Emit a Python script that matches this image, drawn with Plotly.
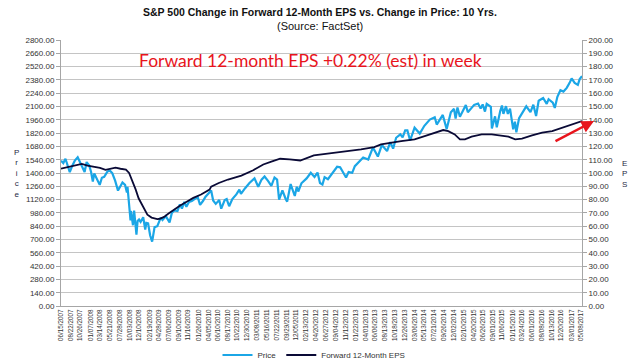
import plotly.graph_objects as go

# ---------------- data ----------------
price_dates = [
"2007-06-15","2007-07-01","2007-07-16","2007-08-01","2007-08-15","2007-09-01","2007-09-19","2007-10-09",
"2007-10-24","2007-11-09","2007-11-26","2007-12-10","2007-12-28","2008-01-10","2008-01-22","2008-02-01",
"2008-02-15","2008-03-10","2008-03-25","2008-04-10","2008-05-02","2008-05-19","2008-06-05","2008-06-25",
"2008-07-15","2008-08-01","2008-08-15","2008-09-02","2008-09-15","2008-09-19","2008-09-29","2008-10-10",
"2008-10-13","2008-10-27","2008-11-04","2008-11-20","2008-11-28","2008-12-08","2008-12-19","2009-01-06",
"2009-01-20","2009-01-28","2009-02-09","2009-02-23","2009-03-09","2009-03-26","2009-04-14","2009-05-08",
"2009-05-20","2009-06-12","2009-07-08","2009-07-24","2009-08-10","2009-09-01","2009-09-18","2009-10-02",
"2009-10-19","2009-11-02","2009-11-20","2009-12-10","2010-01-19","2010-02-05","2010-02-25","2010-03-15",
"2010-04-23","2010-05-07","2010-05-25","2010-06-18","2010-07-02","2010-07-26","2010-08-09","2010-08-26",
"2010-09-17","2010-10-15","2010-11-05","2010-11-16","2010-12-15","2011-01-14","2011-02-18","2011-03-16",
"2011-04-08","2011-04-29","2011-05-23","2011-06-15","2011-07-07","2011-07-25","2011-08-08","2011-08-31",
"2011-09-22","2011-10-03","2011-10-27","2011-11-25","2011-12-09","2011-12-19","2012-01-10","2012-02-15",
"2012-03-15","2012-04-10","2012-05-01","2012-05-18","2012-06-04","2012-06-19","2012-07-12","2012-08-16",
"2012-09-14","2012-10-05","2012-10-25","2012-11-15","2012-12-03","2012-12-28","2013-01-15","2013-02-19",
"2013-03-14","2013-04-18","2013-05-21","2013-06-24","2013-07-22","2013-08-27","2013-09-18","2013-10-08",
"2013-10-29","2013-11-27","2013-12-13","2013-12-31","2014-01-15","2014-02-03","2014-03-06","2014-04-11",
"2014-05-13","2014-06-20","2014-07-24","2014-08-07","2014-09-18","2014-10-15","2014-11-13","2014-12-05",
"2014-12-16","2014-12-29","2015-01-15","2015-02-25","2015-03-11","2015-04-24","2015-05-21","2015-06-08",
"2015-06-22","2015-07-08","2015-07-20","2015-08-18","2015-08-25","2015-09-16","2015-09-28","2015-10-22",
"2015-11-03","2015-11-13","2015-12-01","2015-12-14","2015-12-29","2016-01-20","2016-02-01","2016-02-11",
"2016-03-01","2016-04-20","2016-05-19","2016-06-08","2016-06-27","2016-07-15","2016-08-15","2016-09-09",
"2016-09-22","2016-10-21","2016-11-04","2016-11-22","2016-12-13","2017-01-03","2017-01-26","2017-02-15",
"2017-03-01","2017-03-22","2017-04-13","2017-04-26","2017-05-12"]
price_values = [
1530,1505,1550,1465,1410,1475,1530,1565,
1515,1455,1410,1515,1480,1410,1310,1395,
1350,1275,1350,1360,1415,1425,1400,1320,
1215,1265,1300,1275,1195,1255,1110,900,
1000,850,1005,750,895,910,885,935,
805,875,870,745,677,830,840,930,
905,945,880,980,1005,1000,1070,1025,
1095,1045,1095,1105,1150,1065,1105,1150,
1215,1110,1075,1115,1025,1115,1125,1050,
1125,1175,1225,1180,1240,1295,1343,1256,
1330,1363,1317,1265,1353,1330,1119,1218,
1129,1099,1284,1158,1255,1205,1292,1343,
1402,1358,1405,1295,1278,1357,1335,1405,
1466,1460,1412,1353,1410,1402,1472,1530,
1563,1542,1669,1573,1695,1630,1725,1656,
1771,1807,1775,1848,1848,1742,1877,1815,
1897,1962,1987,1910,2011,1862,2040,2075,
1972,2090,1992,2115,2040,2117,2131,2079,
2122,2047,2128,2096,1868,1996,1882,2052,
2110,2023,2103,2022,2078,1860,1940,1829,
1978,2102,2040,2119,2000,2161,2190,2127,
2177,2141,2085,2202,2271,2257,2296,2349,
2395,2348,2328,2388,2420]

eps_dates = [
"2007-06-15","2007-08-15","2007-10-01","2007-11-07","2007-12-16","2008-02-01","2008-03-12","2008-04-19",
"2008-05-25","2008-06-28","2008-08-01","2008-09-08","2008-09-30","2008-10-20","2008-11-15","2008-12-05",
"2008-12-31","2009-01-18","2009-02-04","2009-03-05","2009-04-14","2009-05-01","2009-05-31","2009-07-01",
"2009-08-09","2009-09-20","2009-11-10","2009-12-20","2010-02-12","2010-04-12","2010-04-23","2010-06-15",
"2010-08-18","2010-11-19","2011-02-09","2011-04-20","2011-06-15","2011-08-15","2011-10-20","2012-01-02",
"2012-04-05","2012-08-23","2012-11-15","2013-02-27","2013-05-30","2013-07-16","2013-12-03","2014-03-06",
"2014-05-15","2014-07-24","2014-09-21","2014-10-26","2014-12-10","2015-01-15","2015-02-19","2015-04-06",
"2015-06-15","2015-08-24","2015-11-02","2015-12-18","2016-02-03","2016-03-21","2016-05-30","2016-08-08",
"2016-10-17","2016-12-26","2017-03-06","2017-05-12"]
eps_values = [
103.2,105.0,106.3,106.9,105.6,104.5,103.9,102.4,
103.5,104.0,103.2,102.6,100.1,95.0,87.5,81.0,
76.2,72.0,68.7,66.5,65.4,65.6,67.0,69.5,
72.5,75.5,78.7,81.3,83.8,87.5,89.8,92.5,
95.1,98.1,102.1,106.4,108.5,110.7,110.2,109.4,
113.2,115.2,116.0,117.7,119.5,121.5,124.0,125.3,
127.8,130.3,132.3,131.5,129.0,125.3,125.3,127.3,
129.0,129.0,128.3,127.3,125.3,125.8,128.3,130.3,
131.5,134.1,136.1,139.1]

tick_labels = [
"06/15/2007","08/22/2007","10/26/2007","01/07/2008","03/14/2008","05/21/2008","07/28/2008","10/03/2008",
"12/10/2008","02/19/2009","04/28/2009","07/06/2009","09/10/2009","11/16/2009","01/26/2010","04/05/2010",
"06/10/2010","08/17/2010","10/22/2010","12/30/2010","03/08/2011","05/16/2011","07/22/2011","09/29/2011",
"12/05/2011","02/13/2012","04/20/2012","06/27/2012","09/04/2012","11/12/2012","01/22/2013","04/01/2013",
"06/06/2013","08/13/2013","10/18/2013","12/26/2013","03/06/2014","05/13/2014","07/21/2014","09/26/2014",
"12/02/2014","02/10/2015","04/20/2015","06/26/2015","09/01/2015","11/06/2015","01/15/2016","03/24/2016",
"06/01/2016","08/08/2016","10/13/2016","12/20/2016","03/01/2017","05/08/2017"]

def to_iso(s):
    m, d, y = s.split("/")
    return f"{y}-{m}-{d}"

tick_vals = [to_iso(s) for s in tick_labels]

FONT = "Liberation Sans, Arial, sans-serif"
L, R, T, B = 61, 582, 40, 306   # plot area in pixels
def px(x): return (x - L) / (R - L)
def py(y): return (B - y) / (B - T)

fig = go.Figure()
fig.add_trace(go.Scatter(x=price_dates, y=price_values, name="Price", mode="lines",
                         line=dict(color="#1ba6e6", width=2.2), yaxis="y"))
fig.add_trace(go.Scatter(x=eps_dates, y=eps_values, name="Forward 12-Month EPS", mode="lines",
                         line=dict(color="#0a0a36", width=1.8), yaxis="y2"))

axis_font = dict(family=FONT, size=8, color="#333333")
fig.update_layout(
    template="none",
    width=640, height=363, autosize=False,
    margin=dict(l=L, r=640 - R, t=T, b=363 - B, pad=0, autoexpand=False),
    paper_bgcolor="white", plot_bgcolor="white",
    font=dict(family=FONT, color="#222222"),
    showlegend=True,
    legend=dict(orientation="h", xref="container", yref="container", x=314 / 640, xanchor="center",
                y=(363 - 355) / 363, yanchor="middle", font=dict(family=FONT, size=8, color="#333333"),
                bgcolor="rgba(0,0,0,0)", itemwidth=30, tracegroupgap=0, borderwidth=0),
    xaxis=dict(type="date", range=["2007-06-15", "2017-05-12"], tickmode="array",
               tickvals=tick_vals, ticktext=tick_labels, tickangle=-90, automargin=False,
               tickfont=dict(family=FONT, size=6.3, color="#333333"),
               showgrid=False, showline=True, linecolor="#a6a6a6", linewidth=1,
               ticks="", zeroline=False),
    yaxis=dict(range=[0, 2800], dtick=140, tick0=0, tickformat=".2f", automargin=False,
               tickfont=axis_font, showgrid=True, gridcolor="#c4c4c4", gridwidth=1,
               showline=True, linecolor="#a6a6a6", ticks="outside", ticklen=4,
               tickcolor="#a6a6a6", zeroline=False),
    yaxis2=dict(range=[0, 200], dtick=10, tick0=0, tickformat=".2f", overlaying="y",
                side="right", tickfont=axis_font, showgrid=False, showline=True, automargin=False,
                linecolor="#a6a6a6", ticks="outside", ticklen=4, tickcolor="#a6a6a6",
                zeroline=False),
)

ann = dict(xref="paper", yref="paper", showarrow=False, xanchor="center", yanchor="middle")
# Titles
fig.add_annotation(text="<b>S&P 500 Change in Forward 12-Month EPS vs. Change in Price: 10 Yrs.</b>",
                   x=px(320), y=py(12), font=dict(family=FONT, size=10.5, color="#111111"), **ann)
fig.add_annotation(text="(Source: FactSet)",
                   x=px(320), y=py(26), font=dict(family=FONT, size=11, color="#111111"), **ann)
# axis titles (stacked letters)
fig.add_annotation(text="P<br>r<br>i<br>c<br>e", x=px(16), y=py(173),
                   font=dict(family=FONT, size=8, color="#1f2a44"), **ann)
fig.add_annotation(text="E<br>P<br>S", x=px(624), y=py(174),
                   font=dict(family=FONT, size=8, color="#1f2a44"), **ann)
# red note
fig.add_annotation(text="Forward 12-month EPS +0.22% (est) in week", x=px(310), y=py(60),
                   font=dict(family="Lato, Carlito, sans-serif", size=17.5, color="#e8141c"), **ann)
# red arrow
fig.add_annotation(text="", xref="paper", yref="paper",
                   x=px(594), y=py(121), ax=-40, ay=21,
                   showarrow=True, arrowhead=2, arrowsize=1, arrowwidth=2.5,
                   arrowcolor="#e8141c")

fig.write_html("out.html", config={"displayModeBar": False, "staticPlot": True},
               post_script="document.body.style.margin='0';document.body.style.overflow='hidden';")
